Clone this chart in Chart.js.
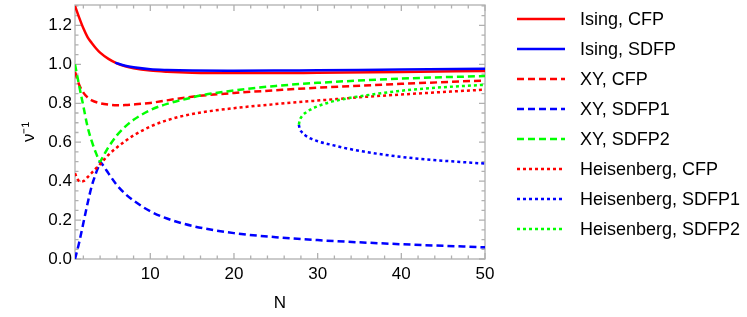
<!DOCTYPE html>
<html>
<head>
<meta charset="utf-8">
<script src="https://cdn.jsdelivr.net/npm/chart.js@4.4.1/dist/chart.umd.min.js"></script>
<style>
  html, body { margin: 0; padding: 0; background: #fff; }
  #wrap { width: 747px; height: 317px; }
</style>
</head>
<body>
<div id="wrap"><canvas id="nuChart"></canvas></div>
<script>
// values (N, 1/nu)
const isingCfpN = [1, 1.5, 2, 2.5, 3, 3.5, 4, 5, 6, 7, 8, 10, 12, 15, 20, 25, 30, 40, 50];
const isingCfpV = [1.30, 1.24, 1.185, 1.14, 1.11, 1.083, 1.06, 1.028, 1.005, 0.99, 0.98, 0.968, 0.962, 0.957, 0.955, 0.955, 0.957, 0.961, 0.966];

const isingSdfpN = [5.8, 7, 8, 10, 12, 15, 20, 25, 30, 40, 50];
const isingSdfpV = [1.009, 0.993, 0.985, 0.975, 0.971, 0.968, 0.967, 0.968, 0.970, 0.973, 0.977];

const xyCfpN = [1, 1.5, 2, 2.5, 3, 4, 5, 6, 7, 8, 10, 12, 15, 20, 25, 30, 40, 50];
const xyCfpV = [0.962, 0.895, 0.855, 0.83, 0.815, 0.80, 0.793, 0.79, 0.791, 0.794, 0.802, 0.815, 0.834, 0.853, 0.867, 0.88, 0.90, 0.917];

const xySdfp1N = [1, 1.5, 2, 2.5, 3, 3.5, 3.8, 4, 4.2, 4.5, 5, 6, 7, 8, 10, 12, 15, 20, 25, 30, 40, 50];
const xySdfp1V = [0, 0.085, 0.185, 0.285, 0.375, 0.44, 0.475, 0.5, 0.49, 0.472, 0.44, 0.38, 0.335, 0.30, 0.245, 0.208, 0.17, 0.133, 0.112, 0.097, 0.076, 0.06];

const xySdfp2N = [1, 1.5, 2, 2.5, 3, 3.5, 3.8, 4, 4.2, 4.5, 5, 6, 7, 8, 10, 12, 15, 16, 20, 25, 30, 40, 50];
const xySdfp2V = [1.0, 0.89, 0.785, 0.68, 0.605, 0.545, 0.515, 0.5, 0.515, 0.538, 0.575, 0.635, 0.68, 0.715, 0.765, 0.797, 0.83, 0.84, 0.866, 0.889, 0.905, 0.927, 0.94];

const heisCfpN = [1, 1.3, 1.6, 2, 2.5, 3, 3.5, 4, 5, 6, 8, 10, 12, 15, 20, 25, 30, 35, 40, 45, 50];
const heisCfpV = [0.44, 0.41, 0.398, 0.40, 0.42, 0.443, 0.465, 0.487, 0.535, 0.573, 0.635, 0.68, 0.713, 0.745, 0.775, 0.796, 0.814, 0.831, 0.845, 0.858, 0.87];

const heisSdfp1N = [27.75, 27.85, 28.1, 28.5, 29.2, 30, 31.5, 33.5, 35.5, 39.5, 43.5, 50];
const heisSdfp1V = [0.69, 0.67, 0.652, 0.636, 0.618, 0.605, 0.588, 0.568, 0.552, 0.527, 0.51, 0.49];

const heisSdfp2N = [27.75, 27.85, 28.1, 28.5, 29.2, 30, 31.5, 33.5, 35.5, 39.5, 43.5, 50];
const heisSdfp2V = [0.69, 0.712, 0.732, 0.75, 0.769, 0.785, 0.806, 0.825, 0.839, 0.862, 0.878, 0.895];

const seriesLabels = ["Ising, CFP", "Ising, SDFP", "XY, CFP", "XY, SDFP1", "XY, SDFP2",
  "Heisenberg, CFP", "Heisenberg, SDFP1", "Heisenberg, SDFP2"];

// tick marks (labels only on majors)
const xMajor = [10, 20, 30, 40, 50];
const yMajor = [0, 0.2, 0.4, 0.6, 0.8, 1.0, 1.2];

const RED = "#ff0000", BLUE = "#0000ff", GREEN = "#00ff00";
const DASH = [7, 4], DOT = [3, 3];
const FONT = '"Liberation Sans", Arial, sans-serif';

function pts(n, v) {
  return n.map((x, i) => ({ x: x, y: v[i] }));
}

const seriesData = [
  [isingCfpN, isingCfpV, RED, []],
  [isingSdfpN, isingSdfpV, BLUE, []],
  [xyCfpN, xyCfpV, RED, DASH],
  [xySdfp1N, xySdfp1V, BLUE, DASH],
  [xySdfp2N, xySdfp2V, GREEN, DASH],
  [heisCfpN, heisCfpV, RED, DOT],
  [heisSdfp1N, heisSdfp1V, BLUE, DOT],
  [heisSdfp2N, heisSdfp2V, GREEN, DOT],
];

const datasets = seriesData.map((s, i) => ({
  label: seriesLabels[i],
  data: pts(s[0], s[1]),
  borderColor: s[2],
  borderWidth: 2.5,
  borderDash: s[3],
  pointRadius: 0,
  fill: false,
  cubicInterpolationMode: "monotone",
  order: seriesData.length - i, // later series on top, like the original
}));

// frame with inward ticks on all four sides
const frameTicks = {
  id: "frameTicks",
  beforeDatasetsDraw(chart) {
    const { ctx, chartArea: a, scales: { x, y } } = chart;
    ctx.save();
    ctx.strokeStyle = "#b0b0b0";
    ctx.lineWidth = 1.3;
    ctx.strokeRect(a.left, a.top, a.right - a.left, a.bottom - a.top);
    ctx.beginPath();
    for (let v = 2; v <= 50; v += 2) {
      const len = xMajor.includes(v) ? 6 : 3.5;
      const px = x.getPixelForValue(v);
      ctx.moveTo(px, a.bottom); ctx.lineTo(px, a.bottom - len);
      ctx.moveTo(px, a.top); ctx.lineTo(px, a.top + len);
    }
    for (let k = 0; k <= 26; k++) {
      const v = k * 0.05;
      const len = k % 4 === 0 ? 6 : 3.5;
      const py = y.getPixelForValue(v);
      ctx.moveTo(a.left, py); ctx.lineTo(a.left + len, py);
      ctx.moveTo(a.right, py); ctx.lineTo(a.right - len, py);
    }
    ctx.stroke();
    ctx.restore();
  },
};

// legend: line samples with the dataset's own stroke style
const lineLegend = {
  id: "lineLegend",
  afterDraw(chart) {
    const { ctx, chartArea: a } = chart;
    const x0 = a.right + 32;
    chart.data.datasets.forEach((ds, i) => {
      const y = 19 + i * 30;
      ctx.save();
      ctx.strokeStyle = ds.borderColor;
      ctx.lineWidth = ds.borderWidth;
      ctx.setLineDash(ds.borderDash);
      ctx.beginPath();
      ctx.moveTo(x0, y);
      ctx.lineTo(x0 + 48, y);
      ctx.stroke();
      ctx.setLineDash([]);
      ctx.fillStyle = "#000";
      ctx.font = "18px " + FONT;
      ctx.textBaseline = "middle";
      ctx.fillText(ds.label, x0 + 63, y + 1);
      ctx.restore();
    });
  },
};

new Chart(document.getElementById("nuChart"), {
  type: "line",
  data: { datasets: datasets },
  options: {
    responsive: true,
    maintainAspectRatio: false,
    animation: false,
    layout: { padding: { left: 0, right: 262, top: 5, bottom: 0 } },
    plugins: { legend: { display: false }, tooltip: { enabled: false } },
    scales: {
      x: {
        type: "linear",
        min: 1,
        max: 50,
        grid: { display: false, drawTicks: false },
        border: { display: false },
        ticks: {
          stepSize: 10,
          includeBounds: false,
          color: "#000",
          padding: 5,
          font: { family: FONT, size: 17 },
        },
        title: {
          display: true,
          text: "N",
          color: "#000",
          font: { family: FONT, size: 17 },
          padding: { top: 0, bottom: 3 },
        },
        afterFit(s) {
          s.height = 58;
          s.paddingLeft = 0;
          s.paddingRight = 0;
        },
      },
      y: {
        min: 0,
        max: 1.305,
        grid: { display: false, drawTicks: false },
        border: { display: false },
        ticks: {
          stepSize: 0.2,
          includeBounds: false,
          color: "#000",
          padding: 3,
          font: { family: FONT, size: 17 },
          callback: (v) => v.toFixed(1),
        },
        title: {
          display: true,
          text: "ν⁻¹",
          color: "#000",
          font: { family: FONT, size: 17 },
          padding: { top: 19, bottom: 0 },
        },
        afterFit(s) {
          s.width = 75;
          s.paddingTop = 0;
          s.paddingBottom = 0;
        },
      },
    },
  },
  plugins: [frameTicks, lineLegend],
});
</script>
</body>
</html>
